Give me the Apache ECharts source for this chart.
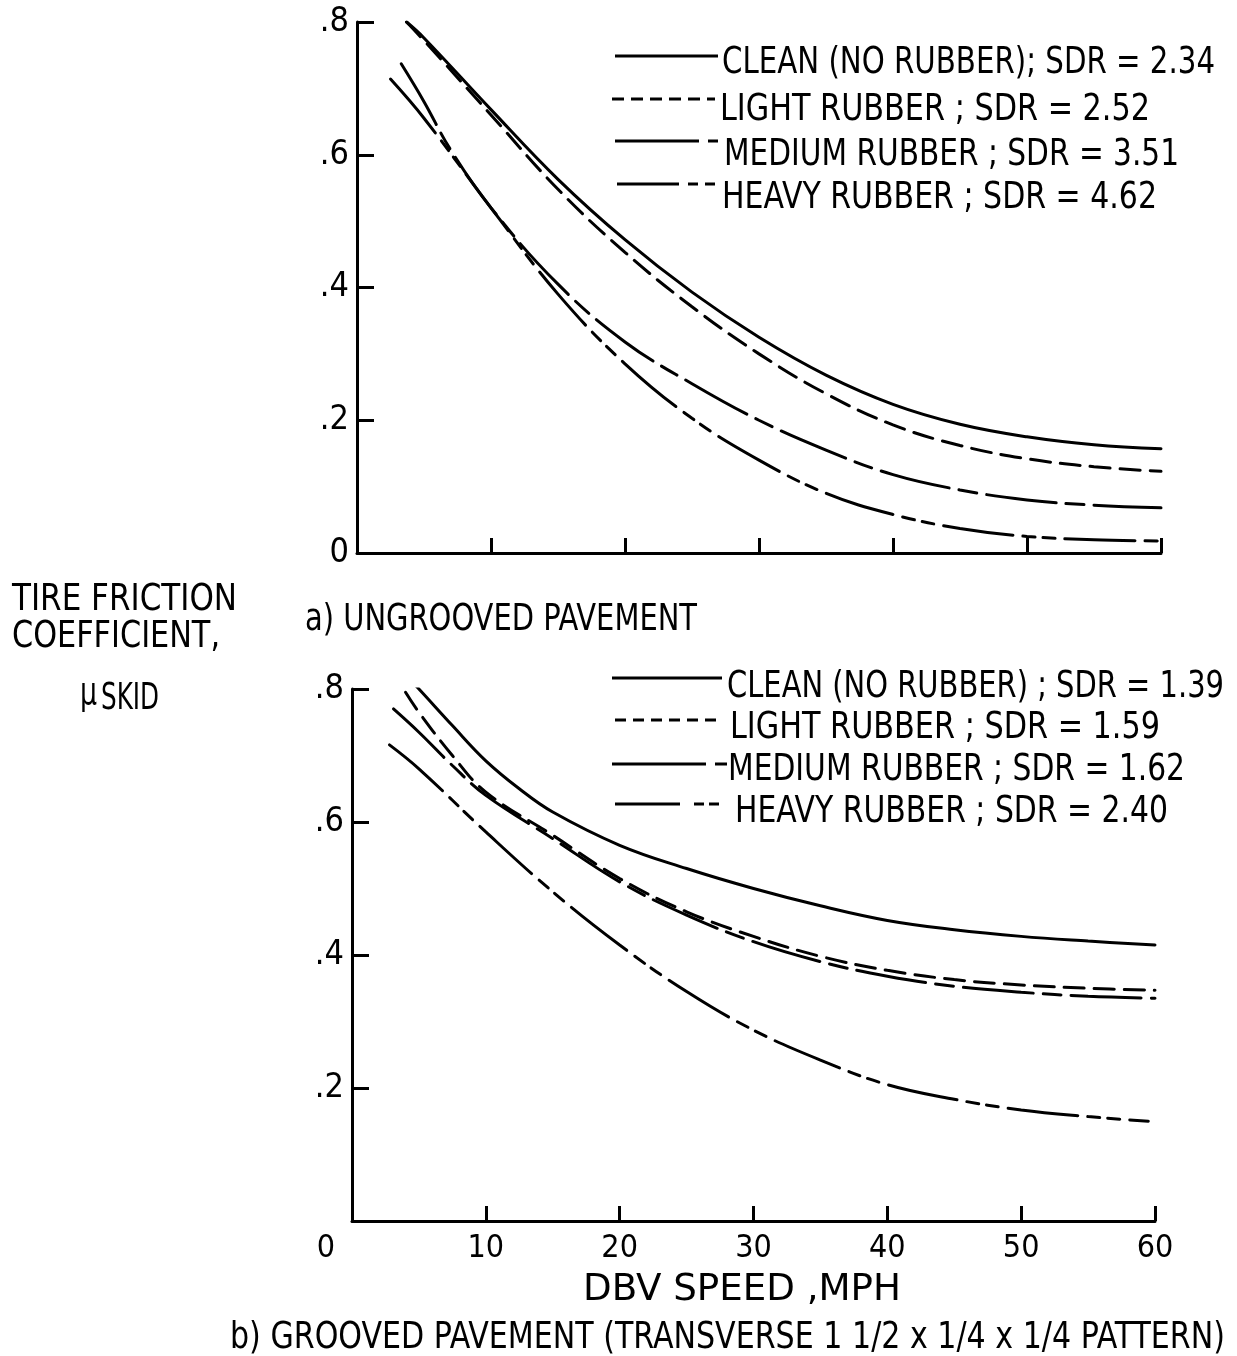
<!DOCTYPE html>
<html>
<head>
<meta charset="utf-8">
<script src="https://cdn.jsdelivr.net/npm/echarts@6/dist/echarts.min.js"></script>
<style>
html,body{margin:0;padding:0;background:#fff;}
#c{width:1237px;height:1356px;}
</style>
</head>
<body>
<div id="c"></div>
<script>
// ---------- DATA ----------
// a) Ungrooved pavement  [speed mph, friction coefficient]
var topNames = [
  'CLEAN (NO RUBBER); SDR = 2.34',
  'LIGHT RUBBER ; SDR = 2.52',
  'MEDIUM RUBBER ; SDR = 3.51',
  'HEAVY RUBBER ; SDR = 4.62'
];
var topClean  = [[3.7,0.80],[5,0.776],[10,0.668],[15,0.563],[20,0.472],[25,0.393],[30,0.325],[35,0.268],[40,0.224],[45,0.194],[50,0.175],[55,0.163],[60,0.157]];
var topLight  = [[3.7,0.80],[5,0.772],[10,0.66],[15,0.548],[20,0.453],[25,0.371],[30,0.300],[35,0.240],[40,0.193],[45,0.162],[50,0.142],[55,0.13],[60,0.123]];
var topMedium = [[3.3,0.737],[5,0.68],[7,0.607],[10,0.52],[15,0.405],[20,0.318],[25,0.255],[30,0.20],[35,0.155],[40,0.118],[45,0.095],[50,0.08],[55,0.072],[60,0.068]];
var topHeavy  = [[2.5,0.714],[5,0.655],[10,0.52],[15,0.39],[20,0.285],[25,0.203],[30,0.14],[35,0.09],[40,0.058],[45,0.037],[50,0.025],[55,0.02],[60,0.018]];

// b) Grooved pavement
var botNames = [
  'CLEAN (NO RUBBER) ; SDR = 1.39',
  'LIGHT RUBBER ; SDR = 1.59',
  'MEDIUM RUBBER ; SDR = 1.62',
  'HEAVY RUBBER ; SDR = 2.40'
];
var botClean  = [[4,0.821],[5,0.80],[7.5,0.745],[10,0.692],[12.5,0.65],[15,0.615],[20,0.565],[25,0.53],[30,0.50],[35,0.474],[40,0.452],[45,0.438],[50,0.428],[55,0.421],[60,0.415]];
var botLight  = [[4,0.795],[5,0.765],[7.5,0.70],[10,0.645],[15,0.58],[20,0.515],[25,0.465],[30,0.428],[35,0.398],[40,0.377],[45,0.363],[50,0.355],[55,0.35],[60,0.347]];
var botMedium = [[3.1,0.77],[5,0.735],[7.5,0.685],[10,0.64],[15,0.575],[20,0.51],[25,0.46],[30,0.42],[35,0.39],[40,0.368],[45,0.353],[50,0.344],[55,0.338],[60,0.335]];
var botHeavy  = [[2.8,0.716],[5,0.68],[10,0.585],[15,0.495],[20,0.415],[25,0.345],[30,0.287],[35,0.242],[40,0.205],[45,0.183],[50,0.167],[55,0.157],[59.5,0.15]];

var xTicks = [0,10,20,30,40,50,60];
var yTicks = [0,0.2,0.4,0.6,0.8];

// ---------- STYLE ----------
var FONT = '"DejaVu Sans Condensed", "DejaVu Sans", sans-serif';
var INK = '#000';
var dashStyles = ['solid', [20,10], [70,10,18,10], [70,10,12,8,12,10]];

function yLab(v){
  if (Math.abs(v) < 1e-9) return '0';
  return '.' + Math.round(v*10);
}

function axisX(gi, showLabels){
  return {
    type:'value', gridIndex:gi, min:xTicks[0], max:xTicks[xTicks.length-1], interval:10,
    axisLine:{show:true, onZero:false, lineStyle:{color:INK, width:3}},
    axisTick:{show:true, inside:true, length:15, lineStyle:{color:INK, width:3}},
    splitLine:{show:false},
    axisLabel:{show:showLabels, color:INK, fontFamily:FONT, fontSize:32, margin:12,
      formatter:function(v){ return v===0 ? '{z|0}' : String(v); },
      rich:{z:{fontFamily:FONT, fontSize:32, color:INK, padding:[0,52,0,0]}}
    }
  };
}
function axisY(gi, showZero){
  return {
    type:'value', gridIndex:gi, min:0, max:0.8, interval:0.2,
    axisLine:{show:true, onZero:false, lineStyle:{color:INK, width:3}},
    axisTick:{show:true, inside:true, length:17, lineStyle:{color:INK, width:3}},
    splitLine:{show:false},
    axisLabel:{color:INK, fontFamily:FONT, fontSize:34, margin:8,
      formatter:function(v){ if(!showZero && Math.abs(v)<1e-9) return ''; return yLab(v); }}
  };
}
function mk(name, data, gi, k){
  return {
    type:'line', name:name, data:data, xAxisIndex:gi, yAxisIndex:gi,
    smooth:0.4, symbol:'none', showSymbol:false, silent:true,
    lineStyle:{color:INK, width:3, type:dashStyles[k], cap:'round'},
    itemStyle:{color:INK}
  };
}

// text helper: tall condensed text squeezed to a target width
var mctx = document.createElement('canvas').getContext('2d');
function txt(str, x, yc, targetW, fs){
  var fsz = fs || 38;
  mctx.font = fsz + 'px ' + FONT;
  var w = mctx.measureText(str).width;
  var s = targetW ? targetW / w : 1;
  return {type:'text', x:x, y:yc, scaleX:s, silent:true,
    style:{text:str, fill:INK, fontSize:fsz, fontFamily:FONT, align:'left', verticalAlign:'middle'}};
}
function legLine(x1, x2, y, dash){
  return {type:'line', silent:true, shape:{x1:x1, y1:y, x2:x2, y2:y},
    style:{stroke:INK, lineWidth:3, lineDash:dash || null, lineCap:'butt'}};
}

var graphics = [
  // legend a)
  legLine(615, 718, 56, null),
  txt(topNames[0], 722, 63, 493),
  legLine(612, 715, 99, [12,7]),
  txt(topNames[1], 720, 110, 430),
  legLine(615, 721, 141, [84,9,10,10]),
  txt(topNames[2], 724, 155, 455),
  legLine(617, 716, 184, [62,9,10,7,10]),
  txt(topNames[3], 722, 198, 435),
  // legend b)
  legLine(612, 722, 678, null),
  txt(botNames[0], 727, 687, 497),
  legLine(615, 722, 720, [11,7]),
  txt(botNames[1], 730, 728, 430),
  legLine(612, 727, 764, [94,9,12,10]),
  txt(botNames[2], 728, 770, 457),
  legLine(615, 733, 804, [65,14,10,5,10]),
  txt(botNames[3], 735, 812, 433),
  // captions
  txt('TIRE FRICTION', 12, 600, 225),
  txt('COEFFICIENT,', 12, 637, 208),
  txt('μ', 80, 694, 17, 38),
  txt('SKID', 101, 699, 58, 38),
  txt('a) UNGROOVED PAVEMENT', 305, 620, 392),
  txt('DBV SPEED ,MPH', 583, 1290, 318),
  txt('b) GROOVED PAVEMENT (TRANSVERSE 1 1/2 x 1/4 x 1/4 PATTERN)', 230, 1338, 995)
];

var option = {
  backgroundColor:'#fff',
  animation:false,
  grid:[
    {left:357, top:22, width:804, height:531},
    {left:352, top:689, width:803, height:532}
  ],
  xAxis:[axisX(0,false), axisX(1,true)],
  yAxis:[axisY(0,true), axisY(1,false)],
  graphic:{elements:graphics},
  series:[
    mk(topNames[0], topClean, 0, 0),
    mk(topNames[1], topLight, 0, 1),
    mk(topNames[2], topMedium, 0, 2),
    mk(topNames[3], topHeavy, 0, 3),
    mk(botNames[0], botClean, 1, 0),
    mk(botNames[1], botLight, 1, 1),
    mk(botNames[2], botMedium, 1, 2),
    mk(botNames[3], botHeavy, 1, 3)
  ]
};
var chart = echarts.init(document.getElementById('c'), null, {renderer:'canvas'});
chart.setOption(option);
</script>
</body>
</html>
